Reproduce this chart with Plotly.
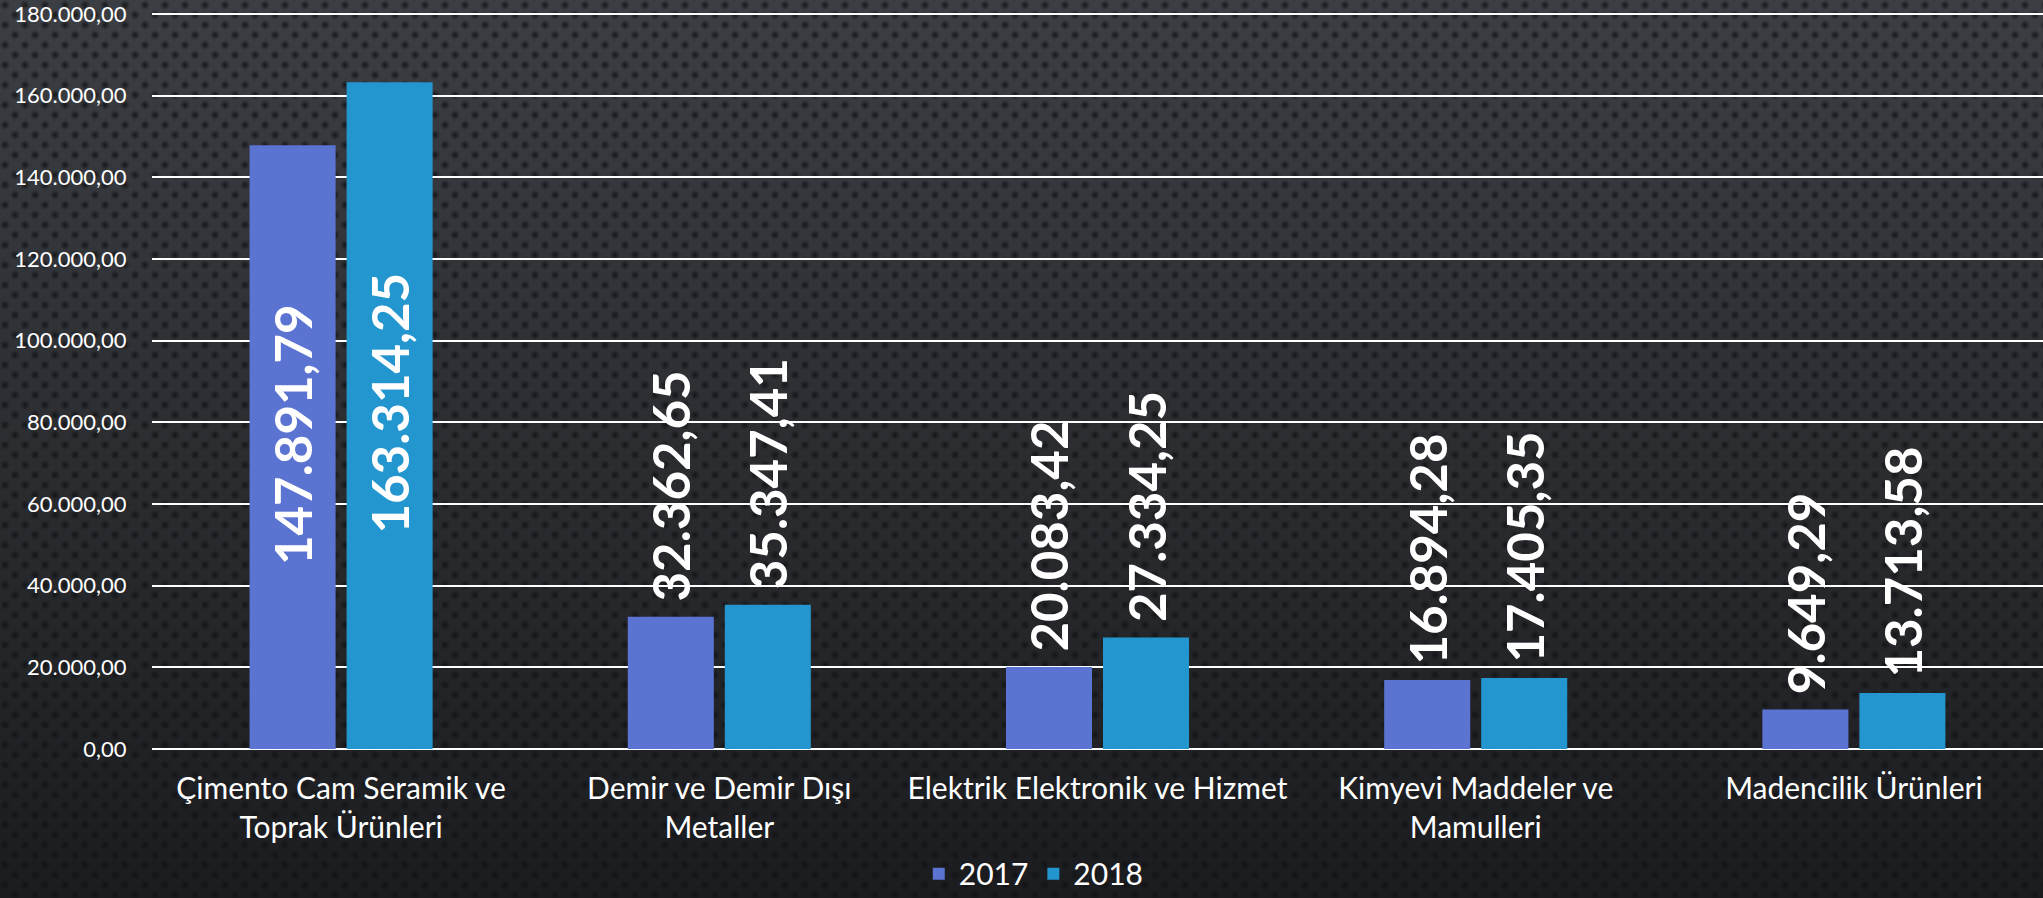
import base64
import plotly.graph_objects as go

categories = [
    "Çimento Cam Seramik ve<br>Toprak Ürünleri",
    "Demir ve Demir Dışı<br>Metaller",
    "Elektrik Elektronik ve Hizmet",
    "Kimyevi Maddeler ve<br>Mamulleri",
    "Madencilik Ürünleri",
]
values_2017 = [147891.79, 32362.65, 20083.42, 16894.28, 9649.29]
values_2018 = [163314.25, 35347.41, 27334.25, 17405.35, 13713.58]
series_names = ["2017", "2018"]
colors = ["#5b73d1", "#2396d0"]
text_positions = ["inside", "outside", "outside", "outside", "outside"]
text_templates = ["  %{y:,.2f}", " %{y:,.2f}", " %{y:,.2f}", " %{y:,.2f}", " %{y:,.2f}"]

W, H = 2043, 898
ML, MR, MT, MB = 152, 0, 10, 149
PW, PH = W - ML - MR, H - MT - MB

svg = f'''<svg xmlns="http://www.w3.org/2000/svg" width="{W}" height="{H}">
<defs>
<linearGradient id="g" x1="0" y1="0" x2="0" y2="1">
<stop offset="0" stop-color="#3b3e43"/>
<stop offset="0.5" stop-color="#2b2d31"/>
<stop offset="1" stop-color="#1b1c1f"/>
</linearGradient>
<radialGradient id="d">
<stop offset="0" stop-color="#101114" stop-opacity="0.85"/>
<stop offset="1" stop-color="#101114" stop-opacity="0"/>
</radialGradient>
<pattern id="p" width="20" height="20" patternUnits="userSpaceOnUse">
<circle cx="5" cy="5" r="5" fill="url(#d)"/>
<circle cx="15" cy="15" r="5" fill="url(#d)"/>
</pattern>
</defs>
<rect width="{W}" height="{H}" fill="url(#g)"/>
<rect width="{W}" height="{H}" fill="url(#p)"/>
</svg>'''
bg_uri = "data:image/svg+xml;base64," + base64.b64encode(svg.encode()).decode()

fig = go.Figure()
for name, vals, col in zip(series_names, [values_2017, values_2018], colors):
    fig.add_trace(go.Bar(
        name=name, x=categories, y=vals,
        marker=dict(color=col, line=dict(width=0)),
        texttemplate=text_templates,
        textposition=text_positions,
        textangle=-90,
        insidetextanchor="middle",
        constraintext="none",
        cliponaxis=False,
        textfont=dict(family="Lato", size=51, color="white", weight="bold"),
    ))

fig.update_layout(
    width=W, height=H,
    margin=dict(l=ML, r=MR, t=MT, b=MB, pad=0, autoexpand=False),
    paper_bgcolor="#26282b",
    plot_bgcolor="rgba(0,0,0,0)",
    separators=",.",
    barmode="group",
    bargap=0.487,
    bargroupgap=0.113,
    font=dict(family="Lato", color="white"),
    showlegend=True,
    legend=dict(
        orientation="h", xref="container", yref="container",
        x=0.506, xanchor="center", y=0.027, yanchor="middle",
        font=dict(family="Lato", size=30, color="white"),
        bgcolor="rgba(0,0,0,0)", itemwidth=30, tracegroupgap=0,
    ),
    images=[dict(
        source=bg_uri, xref="paper", yref="paper",
        x=-ML / PW, y=1 + MT / PH, sizex=W / PW, sizey=H / PH,
        xanchor="left", yanchor="top", sizing="stretch", layer="below",
    )],
)
fig.update_xaxes(
    showgrid=False, showline=False, zeroline=False, automargin=False,
    tickfont=dict(family="Lato", size=30, color="white"),
    ticks="outside", ticklen=13, tickcolor="rgba(0,0,0,0)",
)
fig.update_yaxes(
    range=[0, 181000], dtick=20000, tickformat=",.2f",
    showgrid=True, gridcolor="white", gridwidth=2,
    zeroline=True, zerolinecolor="white", zerolinewidth=2,
    showline=False, automargin=False, ticklabeloverflow="allow",
    tickfont=dict(family="Lato", size=22, color="white"),
    ticks="outside", ticklen=20, tickcolor="rgba(0,0,0,0)",
)

fig.write_html(
    "out.html",
    config={"displayModeBar": False},
    post_script="document.body.style.margin='0';",
)
